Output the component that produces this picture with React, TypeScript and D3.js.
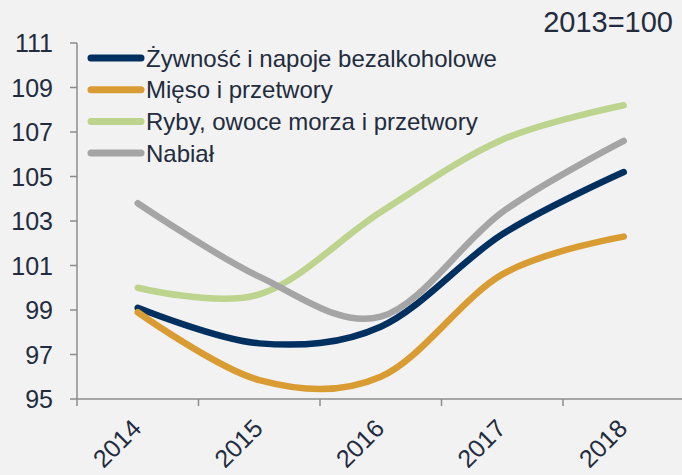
import React, { useEffect, useRef } from 'react';
import * as d3 from 'd3';

const years = ['2014', '2015', '2016', '2017', '2018'];
const zywnosc = [99.1, 97.5, 98.25, 102.4, 105.2];
const mieso = [98.9, 95.85, 96.0, 100.6, 102.3];
const ryby = [100.0, 99.7, 103.4, 106.65, 108.2];
const nabial = [103.8, 100.5, 98.7, 103.4, 106.6];
const yTicks = [95, 97, 99, 101, 103, 105, 107, 109, 111];

const seriesNames = [
  'Żywność i napoje bezalkoholowe',
  'Mięso i przetwory',
  'Ryby, owoce morza i przetwory',
  'Nabiał',
];
const seriesValues = [zywnosc, mieso, ryby, nabial];
const seriesColors = ['#00305f', '#d99c33', '#bdd48e', '#a5a5a5'];

const App = () => {
  const svgRef = useRef<SVGSVGElement>(null);

  useEffect(() => {
    const svg = d3.select(svgRef.current);
    svg.selectAll('*').remove();

    const width = 682;
    const height = 475;
    const font = 'Liberation Sans, Arial, sans-serif';
    const textColor = '#222c3e';
    const axisColor = '#8c8c8c';

    svg.append('rect')
      .attr('width', width)
      .attr('height', height)
      .attr('fill', '#f2f2f2');

    const x = d3.scaleBand()
      .domain(years)
      .range([77, 684.5]);

    const y = d3.scaleLinear()
      .domain([95, 111])
      .range([399, 43]);

    const cx = (d: string) => (x(d) as number) + x.bandwidth() / 2;

    // y axis
    svg.append('line')
      .attr('x1', 77).attr('x2', 77)
      .attr('y1', y(111)).attr('y2', y(95))
      .attr('stroke', axisColor).attr('stroke-width', 1.5);

    svg.selectAll('.ytick')
      .data(yTicks)
      .enter().append('line')
      .attr('x1', 70).attr('x2', 77)
      .attr('y1', d => y(d)).attr('y2', d => y(d))
      .attr('stroke', axisColor).attr('stroke-width', 1.5);

    svg.selectAll('.ylabel')
      .data(yTicks)
      .enter().append('text')
      .attr('x', 53)
      .attr('y', d => y(d) + 9)
      .attr('text-anchor', 'end')
      .attr('font-family', font)
      .attr('font-size', 25)
      .attr('fill', textColor)
      .text(d => d);

    // x axis
    svg.append('line')
      .attr('x1', 77).attr('x2', width)
      .attr('y1', 399).attr('y2', 399)
      .attr('stroke', axisColor).attr('stroke-width', 1.5);

    svg.selectAll('.xtick')
      .data(years)
      .enter().append('line')
      .attr('x1', d => x(d) as number).attr('x2', d => x(d) as number)
      .attr('y1', 399).attr('y2', 406)
      .attr('stroke', axisColor).attr('stroke-width', 1.5);

    svg.selectAll('.xlabel')
      .data(years)
      .enter().append('text')
      .attr('text-anchor', 'end')
      .attr('font-family', font)
      .attr('font-size', 25)
      .attr('fill', textColor)
      .attr('transform', d => `translate(${cx(d) + 5},430) rotate(-45)`)
      .text(d => d);

    // lines
    const line = d3.line<number>()
      .x((d, i) => cx(years[i]))
      .y(d => y(d))
      .curve(d3.curveCardinal.tension(0));

    seriesValues.forEach((values, i) => {
      svg.append('path')
        .datum(values)
        .attr('fill', 'none')
        .attr('stroke', seriesColors[i])
        .attr('stroke-width', 6.5)
        .attr('stroke-linecap', 'round')
        .attr('stroke-linejoin', 'round')
        .attr('d', line);
    });

    // legend
    const legend = svg.selectAll('.legend')
      .data(seriesNames)
      .enter().append('g')
      .attr('transform', (d, i) => `translate(0,${58 + i * 31.7})`);

    legend.append('line')
      .attr('x1', 91).attr('x2', 141)
      .attr('y1', 0).attr('y2', 0)
      .attr('stroke', (d, i) => seriesColors[i])
      .attr('stroke-width', 7)
      .attr('stroke-linecap', 'round');

    legend.append('text')
      .attr('x', 146)
      .attr('y', 8.5)
      .attr('font-family', font)
      .attr('font-size', 24)
      .attr('fill', textColor)
      .text(d => d);

    svg.append('text')
      .attr('x', 673)
      .attr('y', 32)
      .attr('text-anchor', 'end')
      .attr('font-family', font)
      .attr('font-size', 29)
      .attr('fill', textColor)
      .text('2013=100');
  }, []);

  return (
    <svg
      ref={svgRef}
      width={682}
      height={475}
      style={{ position: 'fixed', left: 0, top: 0, display: 'block' }}
    />
  );
};

export default App;
